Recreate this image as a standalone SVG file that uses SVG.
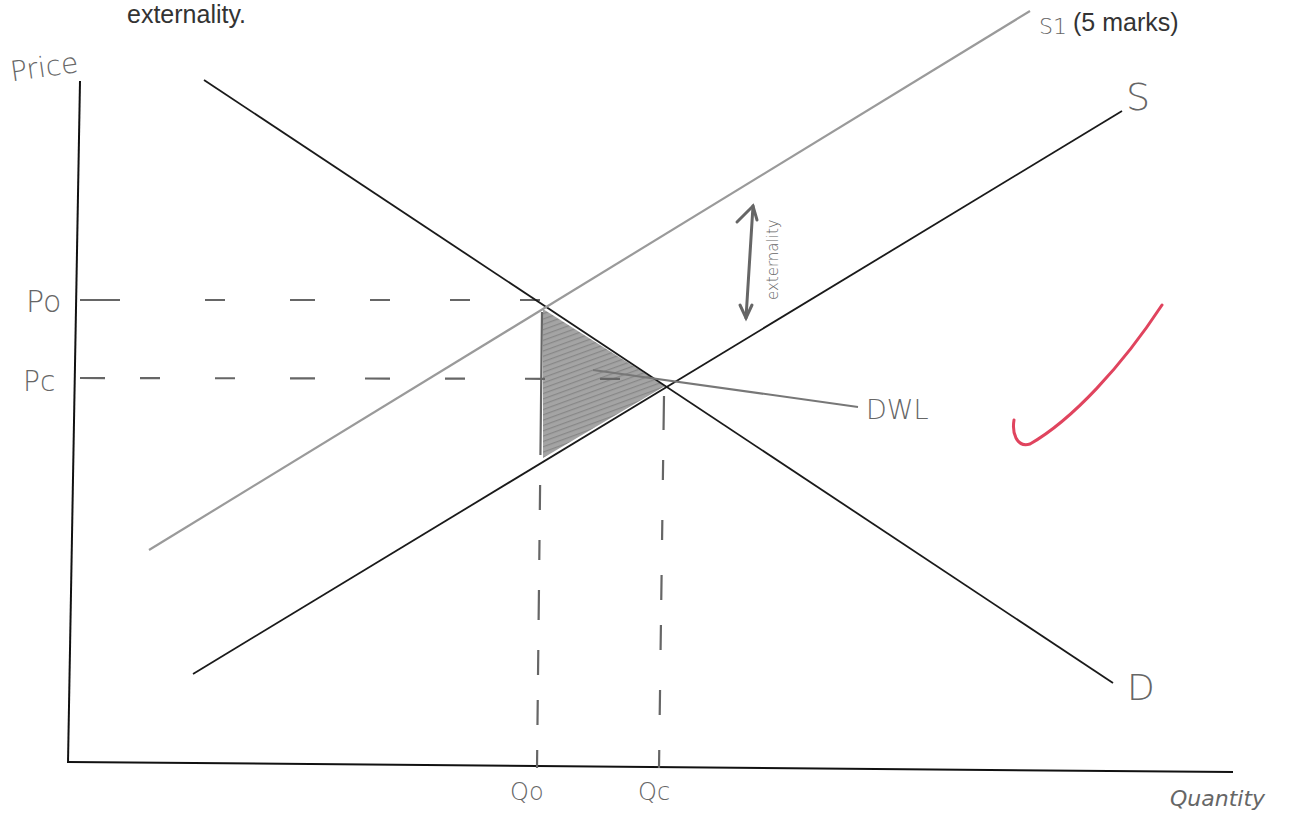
<svg xmlns="http://www.w3.org/2000/svg" width="1298" height="821" viewBox="0 0 1298 821">
  <defs>
    <style>
      .print { font-family: "Liberation Sans", Arial, sans-serif; fill: #333; font-size: 25px; }
      .hand { font-family: "DejaVu Sans", sans-serif; fill: #666; font-weight: 300; }
      .axis { stroke: #111; stroke-width: 2; fill: none; }
      .curve { stroke: #1a1a1a; stroke-width: 1.8; fill: none; }
      .grey { stroke: #9a9a9a; stroke-width: 2.2; fill: none; }
      .dash { stroke: #666; stroke-width: 2.2; fill: none; }
      .pencil { stroke: #777; stroke-width: 2; fill: none; }
    </style>
    <pattern id="hatch" width="5" height="5" patternUnits="userSpaceOnUse" patternTransform="rotate(70)">
      <rect width="5" height="5" fill="#9a9a9a"/>
      <line x1="0" y1="0" x2="0" y2="5" stroke="#7a7a7a" stroke-width="2.5"/>
    </pattern>
  </defs>

  <rect width="1298" height="821" fill="#ffffff"/>

  <!-- printed question text -->
  <text class="print" x="127" y="23">externality.</text>
  <text class="print" x="1073" y="31">(5 marks)</text>

  <!-- shaded deadweight loss -->
  <g id="dwl-area">
    <polygon points="543,309 665,386 543,458" fill="url(#hatch)" opacity="0.9"/>
  </g>

  <!-- axes -->
  <g id="axes">
    <line class="axis" x1="80" y1="81" x2="68" y2="763"/>
    <line class="axis" x1="68" y1="762" x2="1233" y2="772"/>
  </g>

  <!-- dashed guides -->
  <g id="guides">
    <line class="dash" x1="80" y1="300" x2="545" y2="300" style="stroke-dasharray:40 85 20 65 25 55 20 60 20 50 20"/>
    <line class="dash" x1="80" y1="378" x2="665" y2="379" style="stroke-dasharray:25 35 20 55 20 55 25 50 25 55 20 60 20 55 20 45"/>
    <line class="dash" x1="542" y1="312" x2="537" y2="768" style="stroke-dasharray:143 30 25 30 20 30 30 30 25 25 25 25 18"/>
    <line class="dash" x1="664" y1="396" x2="659" y2="768" style="stroke-dasharray:34 30 20 40 20 35 25 25 25 40 25 35 18"/>
  </g>

  <!-- curves -->
  <g id="connectors">
    <line id="D" class="curve" x1="204" y1="80" x2="1113" y2="683"/>
    <line id="S" class="curve" x1="193" y1="674" x2="1122" y2="111"/>
    <line id="S1" class="grey" x1="149" y1="550" x2="1030" y2="11"/>
    <line id="dwl-pointer" class="pencil" x1="593" y1="370" x2="858" y2="407"/>
    <g id="externality-arrow" stroke="#666" stroke-width="3" fill="none" stroke-linecap="round">
      <line x1="753" y1="206" x2="746" y2="318"/>
      <polyline points="737,222 753,206 757,220"/>
      <polyline points="740,305 746,318 752,305"/>
    </g>
  </g>

  <!-- labels -->
  <g id="label-price"><text class="hand" x="10" y="78" font-size="28" transform="rotate(-8 35 68)">Price</text></g>
  <g id="label-po"><text class="hand" x="26" y="312" font-size="30">Po</text></g>
  <g id="label-pc"><text class="hand" x="23" y="391" font-size="28">Pc</text></g>
  <g id="label-qo"><text class="hand" x="510" y="800" font-size="24">Qo</text></g>
  <g id="label-qc"><text class="hand" x="638" y="800" font-size="24">Qc</text></g>
  <g id="label-quantity"><text class="hand" x="1170" y="806" font-size="22" font-style="italic" fill="#777">Quantity</text></g>
  <g id="label-s"><text class="hand" x="1126" y="110" font-size="38">S</text></g>
  <g id="label-d"><text class="hand" x="1127" y="700" font-size="36">D</text></g>
  <g id="label-s1"><text class="hand" x="1039" y="34" font-size="22">S1</text></g>
  <g id="label-dwl"><text class="hand" x="866" y="419" font-size="27">DWL</text></g>
  <g id="label-externality"><text class="hand" x="0" y="0" font-size="15" transform="translate(778 300) rotate(-90)">externality</text></g>

  <!-- red tick -->
  <g id="tick">
    <path d="M1014,420 C1012,432 1016,448 1030,444 C1072,420 1122,366 1162,305" stroke="#e0445e" stroke-width="3" fill="none" stroke-linecap="round"/>
  </g>
</svg>
